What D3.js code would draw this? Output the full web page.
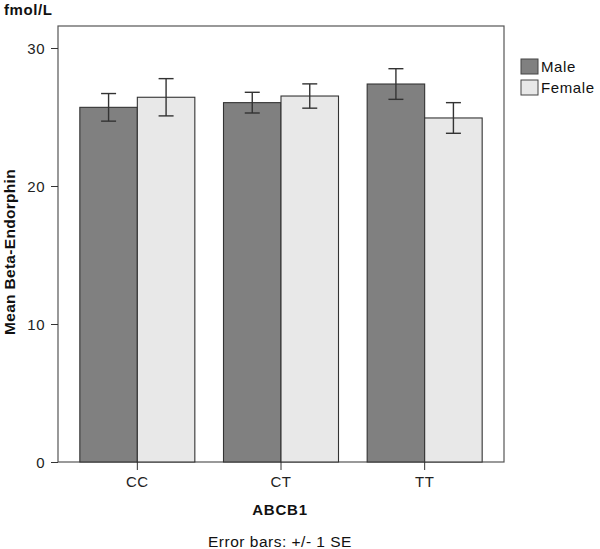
<!DOCTYPE html>
<html><head><meta charset="utf-8">
<script src="https://cdn.jsdelivr.net/npm/d3@7"></script>
<style>body{margin:0;background:#fff}svg{display:block}text{font-family:"Liberation Sans",Arial,sans-serif}</style>
</head><body><svg id="c" width="600" height="549"></svg>
<script>
const categories = ["CC","CT","TT"];
const series = ["Male","Female"];
const maleMeans = [25.70, 26.04, 27.39];
const femaleMeans = [26.43, 26.52, 24.93];
const maleSE = [1.00, 0.75, 1.11];
const femaleSE = [1.35, 0.88, 1.11];
const yTicks = [0, 10, 20, 30];

const svg = d3.select("#c");
const frame = {l:58, r:504, t:26, b:462};
const y = d3.scaleLinear().domain([0, 30]).range([462, 48]);
const x = d3.scaleBand().domain(categories).range([65.5, 496.5]).paddingInner(0).paddingOuter(0);
const xs = d3.scaleBand().domain(series).range([0, 115]);
const off = (x.bandwidth() - 115) / 2;
const colors = {Male:"#808080", Female:"#e8e8e8"};

const data = [];
categories.forEach((c,i)=>{
  data.push({c, s:"Male", v:maleMeans[i], se:maleSE[i]});
  data.push({c, s:"Female", v:femaleMeans[i], se:femaleSE[i]});
});

// frame
svg.append("rect").attr("x",frame.l).attr("y",frame.t).attr("width",frame.r-frame.l).attr("height",frame.b-frame.t)
  .attr("fill","none").attr("stroke","#555").attr("stroke-width",1.2);

// bars
svg.selectAll("rect.bar").data(data).join("rect").attr("class","bar")
  .attr("x", d=>x(d.c)+off+xs(d.s)).attr("width", xs.bandwidth())
  .attr("y", d=>y(d.v)).attr("height", d=>y(0)-y(d.v))
  .attr("fill", d=>colors[d.s]).attr("stroke","#333").attr("stroke-width",1.1);

// error bars
const eb = svg.selectAll("g.eb").data(data).join("g").attr("class","eb")
  .attr("stroke","#333").attr("stroke-width",1.4);
const cx = d=>x(d.c)+off+xs(d.s)+xs.bandwidth()/2;
eb.append("line").attr("x1",cx).attr("x2",cx).attr("y1",d=>y(d.v+d.se)).attr("y2",d=>y(d.v-d.se));
eb.append("line").attr("x1",d=>cx(d)-7.5).attr("x2",d=>cx(d)+7.5).attr("y1",d=>y(d.v+d.se)).attr("y2",d=>y(d.v+d.se));
eb.append("line").attr("x1",d=>cx(d)-7.5).attr("x2",d=>cx(d)+7.5).attr("y1",d=>y(d.v-d.se)).attr("y2",d=>y(d.v-d.se));

// y axis
const ya = svg.append("g").attr("transform",`translate(${frame.l},0)`)
  .call(d3.axisLeft(y).tickValues(yTicks).tickSize(7).tickPadding(6));
ya.select(".domain").remove();
ya.selectAll("line").attr("stroke","#333");
ya.selectAll("text").attr("font-size",15).attr("fill","#222").attr("x",-13).attr("dy","0.36em").attr("letter-spacing","0.5");

// x axis
const xa = svg.append("g").attr("transform",`translate(0,${frame.b})`)
  .call(d3.axisBottom(x).tickSize(8).tickPadding(3));
xa.select(".domain").remove();
xa.selectAll("line").attr("stroke","#333");
xa.selectAll("text").attr("font-size",15).attr("fill","#222").attr("y",25).attr("dy",null).attr("letter-spacing","0.5");

// titles
svg.append("text").attr("x",4).attr("y",15).attr("font-size",15).attr("font-weight","bold").attr("fill","#111").attr("letter-spacing","0.6").text("fmol/L");
svg.append("text").attr("transform","translate(15,252) rotate(-90)").attr("text-anchor","middle")
  .attr("font-size",15.5).attr("font-weight","bold").attr("fill","#111").attr("letter-spacing","0.3").text("Mean Beta-Endorphin");
svg.append("text").attr("x",280).attr("y",515).attr("text-anchor","middle").attr("font-size",15).attr("font-weight","bold").attr("fill","#111").attr("letter-spacing","0.8").text("ABCB1");
svg.append("text").attr("x",280).attr("y",547).attr("text-anchor","middle").attr("font-size",15.5).attr("fill","#111").attr("letter-spacing","0.5").text("Error bars: +/- 1 SE");

// legend
const lg = svg.append("g").attr("transform","translate(521,59)");
series.forEach((s,i)=>{
  lg.append("rect").attr("x",0).attr("y",i*21).attr("width",17).attr("height",15)
    .attr("fill",colors[s]).attr("stroke","#444").attr("stroke-width",1);
  lg.append("text").attr("x",20).attr("y",i*21+13).attr("font-size",15).attr("fill","#111").attr("letter-spacing","0.6").text(s);
});
</script></body></html>
